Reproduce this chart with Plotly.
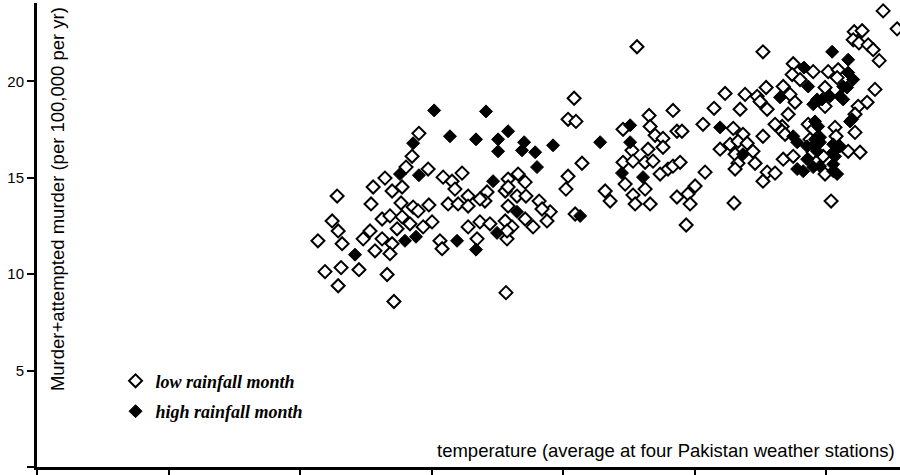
import plotly.graph_objects as go

# Low rainfall months: temperature vs murder rate
low_temp = [10.68, 10.95, 11.22, 11.45, 11.60, 11.56, 11.45, 12.24, 11.41, 12.70, 12.78, 13.23, 13.50, 13.88,
            14.03, 14.26, 14.52, 14.87, 15.44, 15.78, 16.16, 15.89, 16.39, 17.11, 13.84, 14.30, 14.49, 14.90,
            15.63, 16.01, 16.39, 17.03, 17.91, 13.12, 13.42, 13.88, 14.18, 14.68, 15.02, 13.69, 12.66, 12.40,
            13.12, 13.50, 12.85, 13.42, 15.32, 15.40, 16.39, 16.84, 17.22, 16.73, 17.80, 17.87, 18.06, 13.31,
            13.57, 17.83, 17.80, 16.84, 17.91, 18.29, 18.56, 18.25, 18.59, 17.91, 19.09, 19.51, 19.39, 18.86,
            18.56, 19.20, 17.87,
            20.42, 20.19, 20.49, 22.81, 20.72, 20.19, 20.11, 20.46, 21.60, 21.79, 22.28, 23.27, 23.31, 24.18,
            24.33, 24.52, 23.50, 23.80, 22.62, 23.23, 23.80, 22.28, 22.66, 23.12, 23.42, 23.69, 23.99, 24.18,
            24.45, 22.36, 23.12, 22.66, 22.74, 23.31, 24.33, 24.75, 24.83, 25.02, 24.68, 25.32,
            25.74, 26.16, 26.73, 26.92, 27.38, 27.49, 27.72, 27.76, 27.60, 28.37, 28.63, 28.82, 28.75, 28.71,
            29.51, 29.01, 31.07, 31.37, 31.03, 31.25, 31.60, 31.79, 32.02, 32.17, 32.70, 30.08, 30.46, 29.96,
            29.96, 30.42, 31.86, 31.56, 31.22, 31.10, 31.10, 30.34, 29.32, 29.51, 28.33, 28.06, 28.33, 28.44,
            27.60, 26.47, 26.84, 26.35, 26.65, 27.00, 27.22, 25.97, 26.54, 26.65, 27.30, 26.54, 28.37, 28.75,
            29.51, 29.89, 30.84, 31.29, 30.38, 29.96, 27.76, 28.06, 27.60, 30.19, 26.50, 25.40, 28.56, 29.39]
low_murder = [11.73, 10.13, 12.76, 12.24, 11.58, 10.34, 9.40, 10.23, 14.05, 13.64, 14.52, 14.98, 14.31, 14.52,
              15.55, 16.11, 17.30, 15.45, 15.03, 14.82, 15.24, 14.41, 14.05, 14.26, 13.69, 13.48, 13.28, 13.59,
              13.64, 13.64, 13.53, 13.79, 13.53, 12.86, 13.02, 12.97, 12.61, 12.45, 12.71, 12.35, 12.24, 11.83,
              11.83, 11.58, 11.21, 11.06, 11.73, 11.32, 12.45, 12.71, 12.61, 11.83, 12.76, 11.83, 12.45, 9.98,
              8.58, 9.04, 14.31, 13.90, 14.93, 15.19, 14.77, 14.05, 14.05, 14.52, 13.79, 13.23, 12.76, 12.45,
              12.86, 13.38, 12.24,
              19.12, 18.03, 17.92, 21.79, 15.75, 15.08, 14.41, 13.12, 14.31, 13.79, 17.51, 18.23, 17.66, 18.49,
              17.41, 17.41, 17.20, 17.04, 16.42, 16.48, 16.58, 15.80, 15.86, 15.80, 15.86, 15.19, 15.45, 15.60,
              15.80, 14.67, 14.41, 14.10, 13.64, 13.64, 14.00, 14.16, 13.64, 14.57, 12.55, 17.77,
              18.60, 19.37, 18.55, 19.32, 19.22, 18.95, 19.68, 18.55, 21.53, 19.73, 19.32, 18.91, 20.91, 20.35,
              20.50, 20.09, 22.57, 22.62, 22.15, 21.99, 21.89, 21.64, 21.07, 23.65, 22.72, 20.50, 20.60, 19.68,
              18.70, 20.19, 19.58, 18.91, 18.70, 18.29, 17.35, 17.61, 17.77, 17.51, 17.66, 17.77, 17.41, 17.25,
              17.15, 17.56, 17.25, 16.73, 16.89, 16.79, 16.37, 16.48, 16.22, 15.75, 15.75, 15.45, 15.96, 16.11,
              16.32, 16.11, 16.37, 16.32, 17.15, 15.19, 15.29, 15.24, 14.82, 13.79, 13.69, 15.29, 18.29, 16.99]

# High rainfall months
high_temp = [12.09, 13.99, 14.41, 15.97, 16.69, 17.49, 18.25, 13.80, 14.52, 14.30, 15.10, 15.70, 16.69, 17.07,
             17.53, 17.53, 17.34, 17.91, 18.52, 18.44, 18.94, 19.01, 19.62, 20.65, 21.41, 22.55, 22.55, 22.24,
             23.04, 25.97, 26.84, 28.25, 29.16, 29.32, 30.23, 30.84, 30.84, 31.03, 29.66, 29.85, 30.15, 30.53,
             29.51, 30.80, 30.65, 30.91, 29.58, 29.70, 28.75, 28.90, 29.28, 29.51, 29.77, 29.66, 30.27, 30.53,
             30.34, 28.90, 29.13, 29.51, 29.77, 30.27, 30.42, 29.28, 29.58, 29.77, 30.27, 30.99, 30.27, 30.65]
high_murder = [11.01, 11.73, 11.94, 11.73, 11.27, 12.14, 13.23, 15.19, 15.13, 16.79, 18.49, 17.15, 16.99, 18.44,
               16.99, 16.37, 14.82, 17.41, 16.84, 16.42, 16.32, 15.55, 16.68, 13.02, 16.84, 17.72, 16.84, 15.24,
               15.03, 17.61, 16.22, 19.17, 20.71, 19.73, 21.53, 21.12, 20.45, 20.09, 19.06, 19.06, 19.22, 19.22,
               18.81, 19.68, 19.06, 17.92, 17.92, 17.66, 17.15, 16.84, 16.63, 16.63, 16.84, 16.37, 16.73, 16.63,
               16.11, 15.45, 15.34, 15.55, 15.60, 15.34, 15.19, 15.96, 16.99, 17.10, 16.32, 18.03, 15.70, 19.73]

y_ticks = [0, 5, 10, 15, 20]
x_ticks = [0, 5, 10, 15, 20, 25, 30]

fig = go.Figure()
fig.add_trace(go.Scatter(
    x=low_temp, y=low_murder, mode="markers", name="low rainfall month",
    legendgroup="a",
    marker=dict(symbol="diamond", size=10, color="white", line=dict(color="black", width=2)),
))
fig.add_trace(go.Scatter(
    x=high_temp, y=high_murder, mode="markers", name="high rainfall month",
    legendgroup="b",
    marker=dict(symbol="diamond", size=10, color="black", line=dict(color="black", width=1)),
))

fig.update_layout(
    width=900, height=475,
    margin=dict(l=37, r=0, t=3, b=6),
    paper_bgcolor="white", plot_bgcolor="white",
    font=dict(family="Liberation Sans, Arial, sans-serif", size=15, color="black"),
    showlegend=True,
    legend=dict(
        x=0.091, y=0.225, xanchor="left", yanchor="top",
        bgcolor="rgba(0,0,0,0)", tracegroupgap=4,
        font=dict(family="Liberation Serif, Times New Roman, serif", size=18,
                  weight="bold", style="italic", color="black"),
        itemsizing="trace",
    ),
    xaxis=dict(
        range=[0, 32.81], showgrid=False, zeroline=False,
        showline=True, linecolor="black", linewidth=3,
        tickmode="array", tickvals=x_ticks, ticks="outside", ticklen=8, tickwidth=2,
        tickcolor="black", showticklabels=False,
    ),
    yaxis=dict(
        range=[0, 24.06], showgrid=False, zeroline=False,
        showline=True, linecolor="black", linewidth=3,
        tickmode="array", tickvals=y_ticks, ticks="outside", ticklen=7, tickwidth=2,
        tickcolor="black", tickfont=dict(size=15),
    ),
    annotations=[
        dict(text="Murder+attempted murder (per 100,000 per yr)", textangle=-90,
             xref="paper", yref="paper", x=0.023, y=0.577, xanchor="center", yanchor="middle",
             showarrow=False, font=dict(size=18.5, color="black")),
        dict(text="temperature (average at four Pakistan weather stations)",
             xref="paper", yref="paper", x=0.9965, y=0.0365, xanchor="right", yanchor="middle",
             showarrow=False, font=dict(size=18.5, color="black")),
    ],
)

fig.write_html("out.html")
